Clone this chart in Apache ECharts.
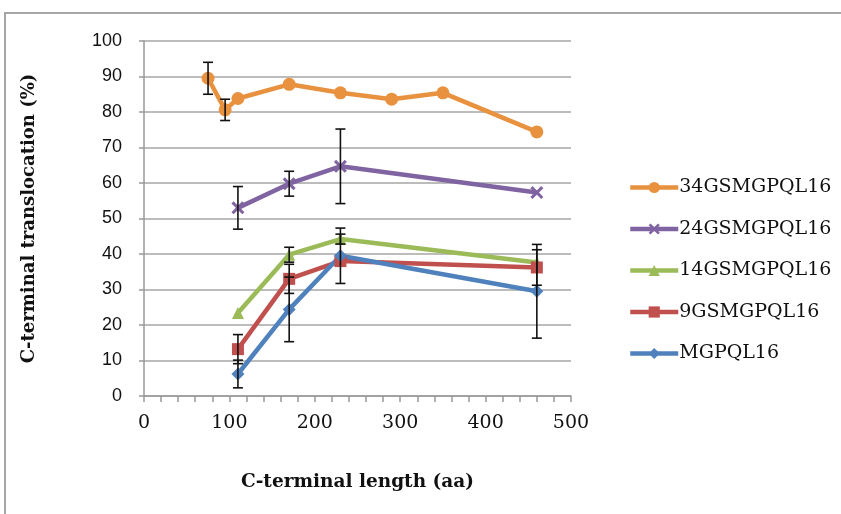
<!DOCTYPE html>
<html>
<head>
<meta charset="utf-8">
<script src="https://cdn.jsdelivr.net/npm/echarts@6/dist/echarts.min.js"></script>
<style>
  html, body { margin: 0; padding: 0; background: #fff; }
  #chart { width: 841px; height: 514px; }
</style>
</head>
<body>
<div id="chart"></div>
<script>
// C-terminal length (aa) for each construct
const len34 = [75, 95, 110, 170, 230, 290, 350, 460];
const lenShared = [110, 170, 230, 460];

// Translocation (%) per construct
const val34 = [89.5, 80.6, 83.8, 87.8, 85.4, 83.6, 85.4, 74.4];
const val24 = [53.0, 59.8, 64.7, 57.3];
const val14 = [23.4, 39.8, 44.2, 37.6];
const val9 = [13.2, 33.0, 38.0, 36.2];
const valM = [6.2, 24.4, 39.5, 29.5];

// Error half-widths (null = no bar)
const err34 = [4.5, 3.0, null, null, null, null, null, null];
const err24 = [6.0, 3.5, 10.5, null];
const err14 = [null, 2.1, 1.4, null];
const err9 = [4.1, 4.1, null, 5.0];
const errM = [3.9, 9.1, 7.8, 13.2];

const yTicks = [0, 10, 20, 30, 40, 50, 60, 70, 80, 90, 100];

const seriesDefs = [
  { name: '34GSMGPQL16', xs: len34, ys: val34, es: err34, color: '#E8913F', symbol: 'circle', size: 13 },
  { name: '24GSMGPQL16', xs: lenShared, ys: val24, es: err24, color: '#8064A2',
    symbol: 'path://M2,0L6,4L10,0L12,2L8,6L12,10L10,12L6,8L2,12L0,10L4,6L0,2Z', size: 13 },
  { name: '14GSMGPQL16', xs: lenShared, ys: val14, es: err14, color: '#9BBB59', symbol: 'triangle', size: 12 },
  { name: '9GSMGPQL16', xs: lenShared, ys: val9, es: err9, color: '#C0504D', symbol: 'rect', size: 12 },
  { name: 'MGPQL16', xs: lenShared, ys: valM, es: errM, color: '#4F81BD', symbol: 'diamond', size: 13 }
];

const lineSeries = seriesDefs.map(d => ({
  name: d.name,
  type: 'line',
  data: d.xs.map((x, i) => [x, d.ys[i]]),
  symbol: d.symbol,
  symbolSize: d.size,
  showAllSymbol: true,
  color: d.color,
  lineStyle: { width: 4.5, color: d.color },
  itemStyle: { color: d.color },
  z: 2,
  animation: false
}));

// Error bars with caps, drawn above the lines
const errData = [];
seriesDefs.forEach(d => {
  d.xs.forEach((x, i) => {
    if (d.es[i] != null) errData.push([x, d.ys[i], d.es[i]]);
  });
});

const errSeries = {
  type: 'custom',
  name: 'error',
  data: errData,
  encode: { x: 0, y: 1 },
  z: 5,
  animation: false,
  renderItem: function (params, api) {
    const x = api.value(0), y = api.value(1), e = api.value(2);
    const top = api.coord([x, y + e]);
    const bot = api.coord([x, y - e]);
    const w = 5;
    const style = { stroke: '#111', lineWidth: 1.6, fill: null };
    return {
      type: 'group',
      children: [
        { type: 'line', shape: { x1: top[0], y1: top[1], x2: bot[0], y2: bot[1] }, style },
        { type: 'line', shape: { x1: top[0] - w, y1: top[1], x2: top[0] + w, y2: top[1] }, style },
        { type: 'line', shape: { x1: bot[0] - w, y1: bot[1], x2: bot[0] + w, y2: bot[1] }, style }
      ]
    };
  }
};

const chart = echarts.init(document.getElementById('chart'), null, { renderer: 'canvas' });
chart.setOption({
  backgroundColor: '#fff',
  animation: false,
  graphic: [{
    type: 'rect',
    shape: { x: 5, y: 13, width: 900, height: 600 },
    style: { fill: null, stroke: '#A6A6A6', lineWidth: 2 },
    z: 0
  }],
  grid: { left: 144, right: 270, top: 41, bottom: 118 },
  legend: {
    orient: 'vertical',
    left: 623,
    top: 172,
    itemWidth: 48,
    itemHeight: 14,
    itemGap: 20.5,
    lineStyle: { width: 4.5 },
    data: seriesDefs.map(d => d.name),
    textStyle: { fontFamily: 'DejaVu Serif', fontSize: 19, color: '#111', lineHeight: 21, padding: [0, 0, 0, -4] }
  },
  xAxis: {
    type: 'value',
    min: 0,
    max: 500,
    interval: 100,
    name: 'C-terminal length (aa)',
    nameLocation: 'middle',
    nameGap: 77,
    nameTextStyle: { fontFamily: 'DejaVu Serif', fontWeight: 'bold', fontSize: 18.5, color: '#111' },
    axisLine: { show: true, lineStyle: { color: '#999', width: 1.5 } },
    axisTick: { show: true, inside: false, length: 6, lineStyle: { color: '#999', width: 1.5 } },
    minorTick: { show: true, splitNumber: 5, length: 6, lineStyle: { color: '#999', width: 1.5 } },
    axisLabel: { fontFamily: 'DejaVu Serif', fontSize: 19, color: '#111', margin: 18 },
    splitLine: { show: false }
  },
  yAxis: {
    type: 'value',
    min: yTicks[0],
    max: yTicks[yTicks.length - 1],
    interval: 10,
    name: 'C-terminal translocation (%)',
    nameLocation: 'middle',
    nameGap: 106,
    nameRotate: 90,
    nameTextStyle: { fontFamily: 'DejaVu Serif', fontWeight: 'bold', fontSize: 18, color: '#111' },
    axisLine: { show: true, lineStyle: { color: '#999', width: 1.5 } },
    axisTick: { show: true, length: 5, lineStyle: { color: '#999', width: 1.5 } },
    axisLabel: { fontFamily: 'Liberation Sans', fontSize: 18, color: '#111', margin: 22 },
    splitLine: { show: true, lineStyle: { color: '#A6A6A6', width: 1.5 } }
  },
  series: lineSeries.concat([errSeries])
});
</script>
</body>
</html>
